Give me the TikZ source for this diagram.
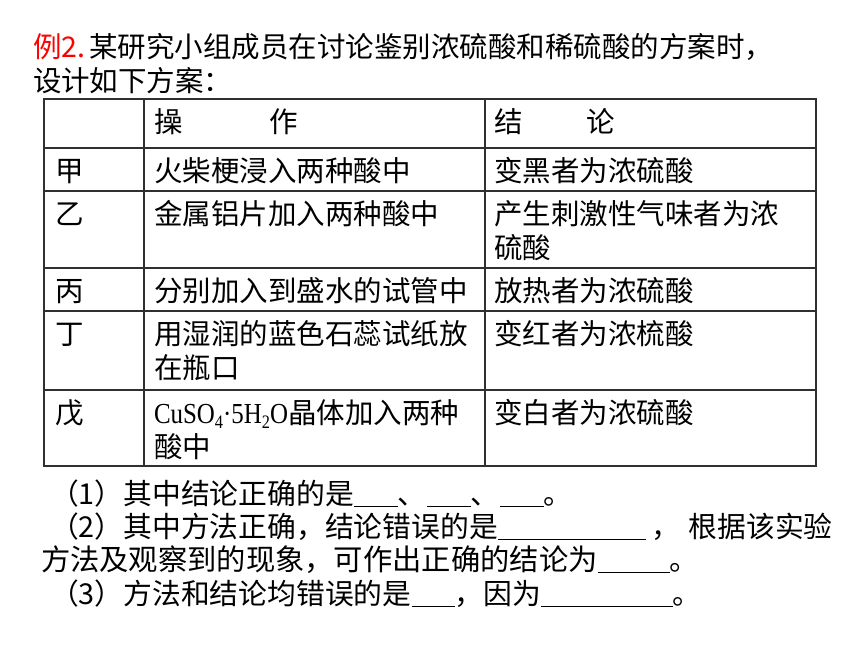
\documentclass[tikz,border=0pt]{standalone}
\usepackage{fontspec}
\usepackage{graphicx}
\setmainfont{Noto Sans CJK SC}
\newfontfamily\latinserif{Liberation Serif}
\definecolor{exred}{HTML}{FF0000}
\definecolor{gridcol}{HTML}{303030}
\newcommand\tsz{\fontsize{28.5}{34}\selectfont}
\newcommand\bsz{\fontsize{28.8}{34}\selectfont}
\newcommand\blank[1]{\rule[-3pt]{#1}{1.3pt}}
\newcommand\chemsub[1]{\raisebox{-5pt}{\fontsize{19}{19}\selectfont #1}}
\tikzset{
  txt/.style={anchor=base west, inner sep=0pt, outer sep=0pt, font=\tsz},
  btxt/.style={anchor=base west, inner sep=0pt, outer sep=0pt, font=\bsz},
  grid/.style={draw=gridcol, line width=1.4pt}
}
\begin{document}
\begin{tikzpicture}[x=1pt,y=-1pt]
\useasboundingbox (0,0) rectangle (860,645);
\fill[white] (0,0) rectangle (860,645);

% title
\node[txt] (t1) at (33,57) {\textcolor{exred}{例2.}\hspace{4pt}某研究小组成员在讨论鉴别浓硫酸和稀硫酸的方案时，};
\node[txt] (t2) at (33,91) {设计如下方案：};

% table grid
\draw[grid] (44,99) rectangle (816,466);
\foreach \yy in {148,191,268,311,390} \draw[grid] (44,\yy) -- (816,\yy);
\foreach \xx in {144,485} \draw[grid] (\xx,99) -- (\xx,466);

% header
\node[txt] (h2) at (154,132) {操\hspace{87pt}作};
\node[txt] (h3) at (494,132) {结\hspace{64pt}论};

% rows
\node[txt] (r1a) at (55,181) {甲};
\node[txt] (r1b) at (154,181) {火柴梗浸入两种酸中};
\node[txt] (r1c) at (494,181) {变黑者为浓硫酸};

\node[txt] (r2a) at (55,224) {乙};
\node[txt] (r2b) at (154,224) {金属铝片加入两种酸中};
\node[txt] (r2c) at (494,224) {产生刺激性气味者为浓};
\node[txt] (r2d) at (494,258) {硫酸};

\node[txt] (r3a) at (55,301) {丙};
\node[txt] (r3b) at (154,301) {分别加入到盛水的试管中};
\node[txt] (r3c) at (494,301) {放热者为浓硫酸};

\node[txt] (r4a) at (55,344) {丁};
\node[txt] (r4b) at (154,344) {用湿润的蓝色石蕊试纸放};
\node[txt] (r4d) at (154,378) {在瓶口};
\node[txt] (r4c) at (494,344) {变红者为浓梳酸};

\node[txt] (r5a) at (55,423) {戊};
\node[txt] (r5b) at (154,423) {\scalebox{0.86}[1]{\latinserif\fontsize{29}{34}\selectfont CuSO\chemsub{4}·5H\chemsub{2}O}晶体加入两种};
\node[txt] (r5d) at (154,457) {酸中};
\node[txt] (r5c) at (494,423) {变白者为浓硫酸};

% questions
\node[btxt] (q1) at (50,504) {（1）其中结论正确的是\blank{44pt}、\blank{44pt}、\blank{44pt}。};
\node[btxt] (q2) at (50,537) {（2）其中方法正确，结论错误的是\blank{148pt}\hspace{6pt}，\hspace{8pt}根据该实验};
\node[btxt,font=\fontsize{29.3}{34}\selectfont] (q3) at (41,570) {方法及观察到的现象，可作出正确的结论为\blank{72pt}。};
\node[btxt] (q4) at (50,604) {（3）方法和结论均错误的是\blank{43pt}，因为\blank{132pt}。};
\end{tikzpicture}
\end{document}
